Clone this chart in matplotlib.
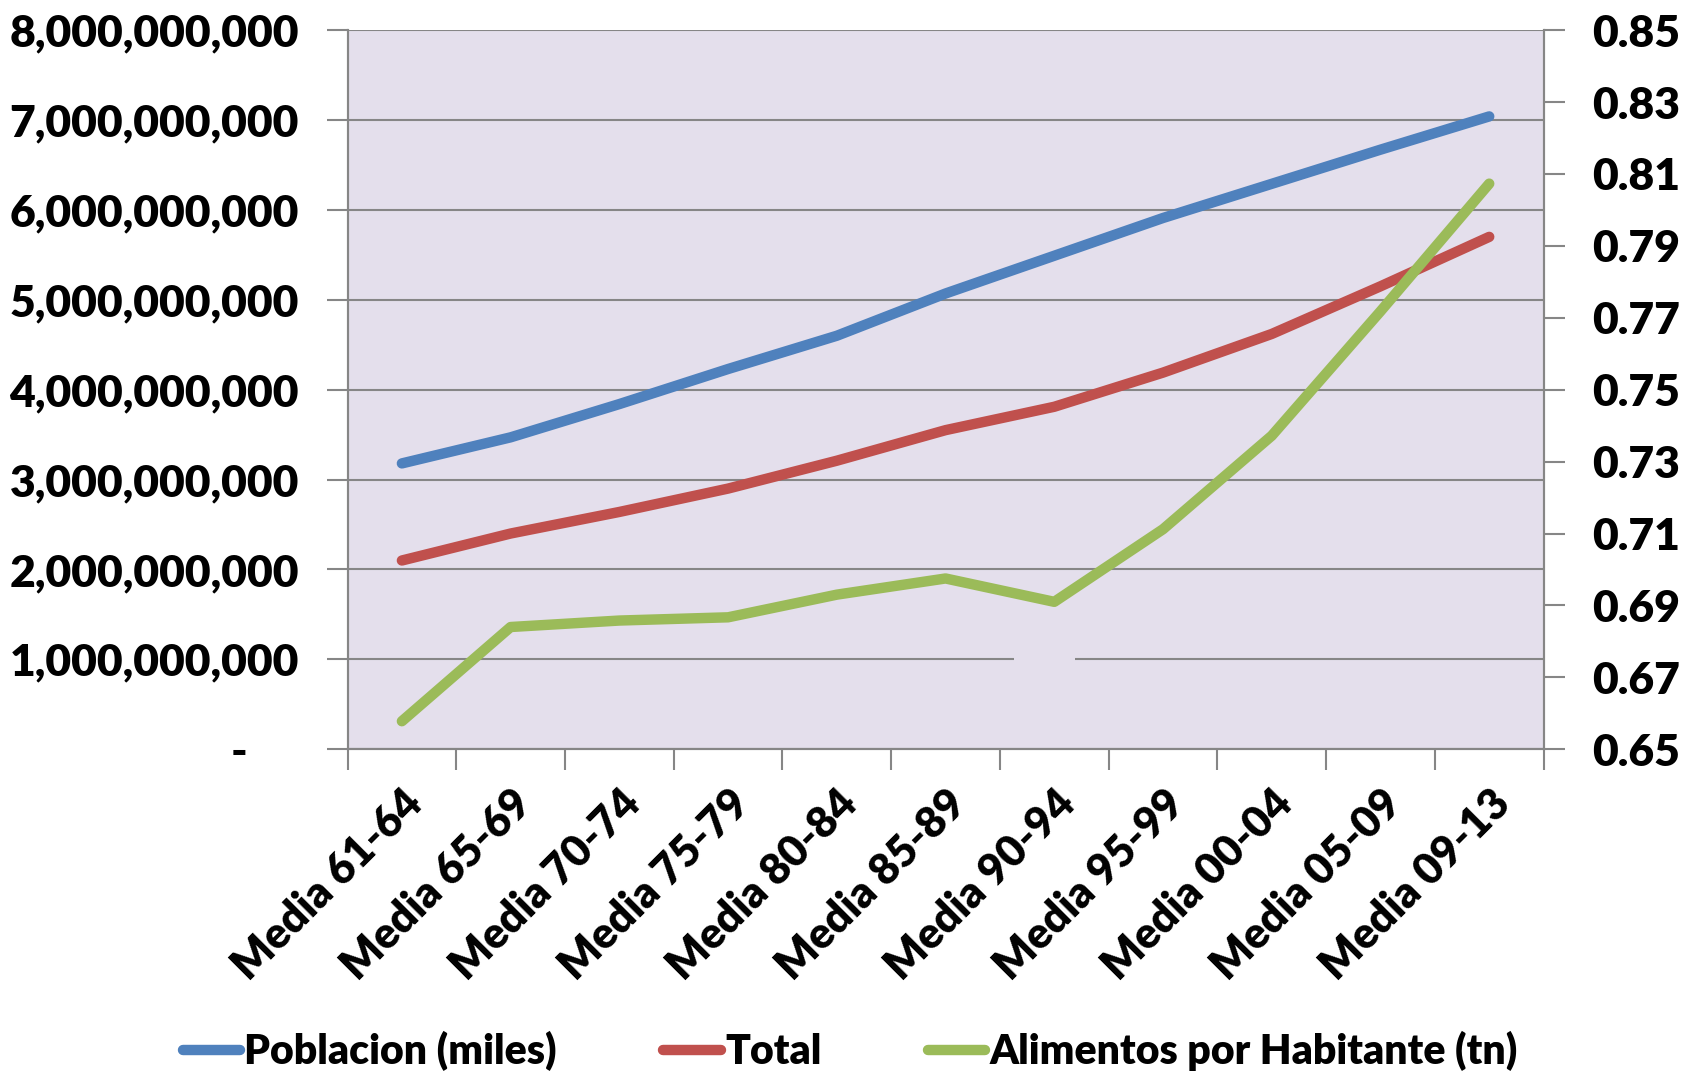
import numpy as np
import matplotlib
matplotlib.use("Agg")
import matplotlib.pyplot as plt
from matplotlib.ticker import FuncFormatter
from matplotlib.patches import Rectangle

# datos
periodos = ["Media 61-64", "Media 65-69", "Media 70-74", "Media 75-79", "Media 80-84",
            "Media 85-89", "Media 90-94", "Media 95-99", "Media 00-04", "Media 05-09",
            "Media 09-13"]
poblacion = [3.18e9, 3.47e9, 3.84e9, 4.23e9, 4.60e9, 5.07e9, 5.49e9, 5.91e9, 6.29e9, 6.67e9, 7.04e9]
total = [2.10e9, 2.40e9, 2.64e9, 2.90e9, 3.21e9, 3.55e9, 3.81e9, 4.19e9, 4.62e9, 5.15e9, 5.70e9]
alimentos = [0.6578, 0.6840, 0.6858, 0.6867, 0.6930, 0.6975, 0.6910, 0.7112, 0.7372, 0.7718, 0.8073]

izq_ticks = np.arange(0, 8.01e9, 1e9)
der_ticks = np.arange(0.65, 0.851, 0.02)

plt.rcParams['font.family'] = ['Lato', 'DejaVu Sans']
plt.rcParams['font.weight'] = 'heavy'

gris = '#868686'
fig = plt.figure(figsize=(16.87, 10.75), dpi=100)
ax = fig.add_axes([0.206, 0.303, 0.709, 0.669])
ax.set_facecolor('#E4DFEC')
ax2 = ax.twinx()

x = np.arange(len(periodos))
ax.plot(x, poblacion, color='#4F81BD', lw=7.5, solid_capstyle='round', label='Poblacion (miles)')
ax.plot(x, total, color='#C0504D', lw=7.5, solid_capstyle='round', label='Total')
ax2.plot(x, alimentos, color='#9BBB59', lw=7.5, solid_capstyle='round', label='Alimentos por Habitante (tn)')

ax.set_xlim(-0.5, len(periodos) - 0.5)
ax.set_ylim(0, 8e9)
ax2.set_ylim(0.65, 0.85)
ax.set_yticks(izq_ticks)
ax2.set_yticks(der_ticks)
ax.yaxis.set_major_formatter(FuncFormatter(lambda v, p: '-     ' if v == 0 else f'{v:,.0f}'))
ax2.yaxis.set_major_formatter(FuncFormatter(lambda v, p: f'{v:.2f}'))

ax.set_xticks(x)
ax.set_xticklabels(periodos, rotation=45, ha='right', rotation_mode='anchor')
ax.set_xticks(np.arange(-0.5, len(periodos), 1), minor=True)
ax.tick_params(axis='x', which='major', length=0, pad=24, labelsize=31)
ax.tick_params(axis='x', which='minor', length=15, width=1.5, color=gris)
ax.tick_params(axis='y', length=15, width=1.5, color=gris, labelsize=32, pad=20)
ax2.tick_params(axis='y', length=15, width=1.5, color=gris, labelsize=32, pad=20)

ax.grid(axis='y', color=gris, lw=1.5)
ax.set_axisbelow(True)
for a in (ax, ax2):
    a.spines['top'].set_visible(False)
    for s in ('left', 'right', 'bottom'):
        a.spines[s].set_color(gris)
        a.spines[s].set_linewidth(1.5)

# hueco en la linea de 1,000,000,000
ax.add_patch(Rectangle((0.557, 0.115), 0.051, 0.02, transform=ax.transAxes,
                       facecolor='#E4DFEC', edgecolor='none', zorder=1.5))

h1, l1 = ax.get_legend_handles_labels()
h2, l2 = ax2.get_legend_handles_labels()
fig.legend(h1 + h2, l1 + l2, loc='center', bbox_to_anchor=(0.504, 0.022), ncol=3,
           frameon=False, handlelength=1.4, handletextpad=0.1, columnspacing=2.6,
           prop={'family': 'Lato', 'weight': 'heavy', 'size': 29.5})

fig.savefig('out.png', dpi=100)
